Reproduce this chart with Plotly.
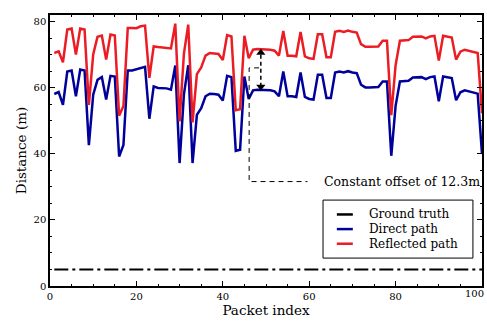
import plotly.graph_objects as go

packet_index = list(range(1, 101))

direct_path = [
    58.1, 58.7, 54.8, 64.9, 65.2, 57.4, 65.5, 65.2, 42.6, 57.9,
    62.4, 63.2, 56.4, 63.6, 63.4, 39.2, 42.7, 65.2, 65.2, 65.5,
    66.0, 66.3, 50.6, 60.4, 59.9, 59.9, 59.8, 59.4, 66.7, 37.2,
    58.0, 66.8, 37.2, 51.8, 53.8, 57.4, 58.2, 58.1, 57.9, 56.1,
    63.6, 63.2, 40.9, 41.2, 63.4, 56.6, 59.2, 59.4, 59.4, 59.4,
    59.2, 58.9, 57.4, 64.9, 57.4, 57.4, 57.2, 64.6, 57.2, 56.6,
    56.4, 63.9, 63.9, 56.9, 56.9, 64.6, 64.9, 64.6, 65.0, 64.6,
    64.4, 60.9, 60.1, 60.1, 60.1, 60.2, 61.9, 61.9, 39.4, 54.5,
    61.9, 61.9, 62.1, 63.1, 63.1, 63.2, 62.6, 63.2, 63.4, 55.9,
    63.4, 63.2, 62.9, 56.2, 58.6, 59.2, 58.9, 58.6, 58.2, 40.0,
]

reflected_path = [
    70.5, 71.0, 67.7, 77.6, 77.9, 70.0, 77.9, 77.6, 54.8, 70.1,
    75.4, 75.8, 68.5, 76.1, 75.8, 51.5, 54.5, 78.1, 78.1, 78.0,
    78.6, 78.8, 63.0, 72.5, 72.3, 72.2, 72.2, 71.9, 79.4, 49.8,
    70.3, 79.1, 49.5, 64.1, 66.1, 69.7, 70.5, 70.4, 70.2, 68.4,
    75.9, 75.5, 53.2, 53.5, 75.7, 68.9, 71.5, 71.7, 71.7, 71.7,
    71.5, 71.2, 69.7, 77.2, 69.7, 69.7, 69.5, 76.9, 69.5, 68.9,
    68.7, 76.2, 76.2, 69.2, 69.2, 76.9, 77.2, 76.9, 77.3, 76.9,
    76.7, 73.2, 72.4, 72.4, 72.4, 72.5, 74.2, 74.2, 51.7, 66.8,
    74.2, 74.2, 74.4, 75.4, 75.4, 75.5, 74.9, 75.5, 75.7, 68.2,
    75.7, 75.5, 75.2, 68.5, 70.9, 71.5, 71.2, 70.9, 70.5, 52.3,
]

ground_truth = [5.0] * len(packet_index)

series_names = ["Ground truth", "Direct path", "Reflected path"]
series_colors = ["black", "#00009a", "#ec1c24"]

x_tickvals = [0, 20, 40, 60, 80, 100]
x_ticktext = ["0", "20", "40", "60", "80", "100"]

# annotation geometry (data units)
arrow_x = 48.8
arrow_y = [60.3, 70.6]
leader_x = [48.4, 46.1, 46.1, 59.6]
leader_y = [66.0, 66.0, 31.6, 31.6]
offset_label = "Constant offset of 12.3m"

FONT = "DejaVu Serif"

fig = go.Figure()
fig.add_trace(go.Scatter(x=packet_index, y=ground_truth, mode="lines", name=series_names[0],
                         showlegend=False,
                         line=dict(color=series_colors[0], width=2, dash="14px,4px,3px,4px")))
fig.add_trace(go.Scatter(x=packet_index, y=direct_path, mode="lines", name=series_names[1],
                         showlegend=False, line=dict(color=series_colors[1], width=2.5)))
fig.add_trace(go.Scatter(x=packet_index, y=reflected_path, mode="lines", name=series_names[2],
                         showlegend=False, line=dict(color=series_colors[2], width=2.5)))

# dashed double arrow
fig.add_trace(go.Scatter(x=[arrow_x, arrow_x], y=arrow_y, mode="lines", showlegend=False,
                         line=dict(color="black", width=1.5, dash="4px,3px"), hoverinfo="skip"))
fig.add_trace(go.Scatter(x=[arrow_x, arrow_x], y=arrow_y, mode="markers", showlegend=False,
                         marker=dict(symbol=["triangle-down", "triangle-up"], size=8, color="black"),
                         hoverinfo="skip"))
# leader line
fig.add_trace(go.Scatter(x=leader_x, y=leader_y, mode="lines", showlegend=False,
                         line=dict(color="black", width=1, dash="5px,4px"), hoverinfo="skip"))

fig.add_annotation(x=63, y=31.6, text=offset_label, showarrow=False, xanchor="left", yanchor="middle",
                   font=dict(family=FONT, size=12.5, color="black"))

# last x tick label, kept inside the page
fig.add_annotation(x=x_tickvals[-1], xref="x", y=0, yref="paper", text=x_ticktext[-1], showarrow=False,
                   xanchor="right", yanchor="top", xshift=3, yshift=-1, borderpad=0,
                   font=dict(family=FONT, size=10, color="black"))

# legend (drawn in plot-area paper coordinates)
fig.add_shape(type="rect", xref="paper", yref="paper", x0=0.632, x1=0.979, y0=0.103, y1=0.317,
              line=dict(color="black", width=1), fillcolor="white", layer="above")
legend_rows = [0.264, 0.210, 0.156]
for name, color, ry in zip(series_names, series_colors, legend_rows):
    fig.add_shape(type="line", xref="paper", yref="paper", x0=0.664, x1=0.701, y0=ry, y1=ry,
                  line=dict(color=color, width=2.5), layer="above")
    fig.add_annotation(xref="paper", yref="paper", x=0.736, y=ry, text=name, showarrow=False,
                       xanchor="left", yanchor="middle", borderpad=0,
                       font=dict(family=FONT, size=12, color="black"))

axis_common = dict(showline=True, linecolor="black", linewidth=1.5, mirror="allticks",
                   ticks="inside", ticklen=5, tickcolor="black", tickwidth=1,
                   showgrid=False, zeroline=False, automargin=False,
                   tickfont=dict(family=FONT, size=10, color="black"))

fig.update_xaxes(range=[0, 100], tickmode="array", tickvals=x_tickvals,
                 ticktext=x_ticktext[:-1] + [""],
                 minor=dict(tickmode="linear", tick0=0, dtick=5, ticks="inside", ticklen=2.5, tickcolor="black"),
                 title=dict(text="Packet index", font=dict(family=FONT, size=13.5, color="black"), standoff=2),
                 **axis_common)
fig.update_yaxes(range=[0, 82], dtick=20, tick0=0,
                 minor=dict(dtick=5, ticks="inside", ticklen=2.5, tickcolor="black"),
                 title=dict(text="Distance (m)", font=dict(family=FONT, size=13.5, color="black"), standoff=4),
                 **axis_common)

fig.update_layout(
    width=487, height=322,
    margin=dict(l=50, r=5, t=15, b=36, autoexpand=False),
    paper_bgcolor="white", plot_bgcolor="white",
    showlegend=False,
)

fig.write_html("out.html", config={"displayModeBar": False},
               post_script="document.body.style.margin='0';document.body.style.overflow='hidden';")
